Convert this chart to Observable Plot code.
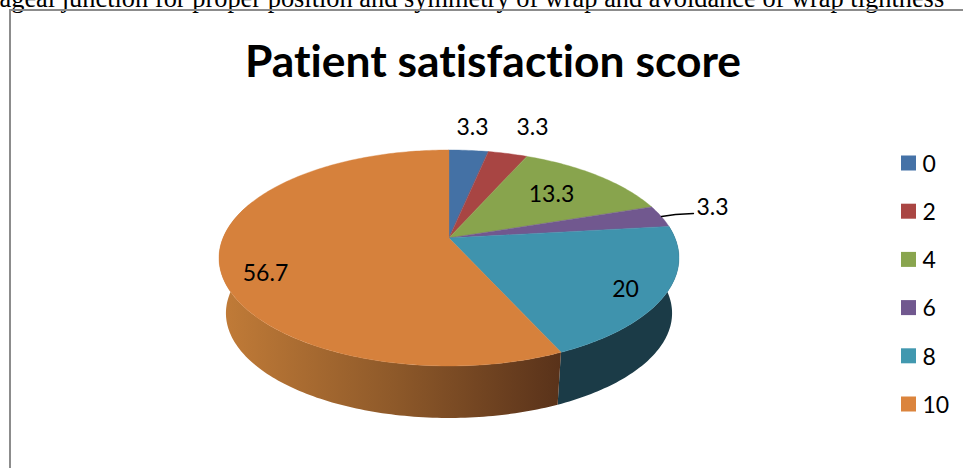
<!DOCTYPE html>
<html>
<head>
<meta charset="utf-8">
<script src="https://cdn.jsdelivr.net/npm/d3@7"></script>
<script src="https://cdn.jsdelivr.net/npm/@observablehq/plot@0.6"></script>
<style>
html,body{margin:0;padding:0;background:#fff;overflow:hidden}
svg{display:block;font-variant-ligatures:none}
</style>
</head>
<body>
<div id="chart"></div>
<script>
// ---- data ----
const categories = ["0", "2", "4", "6", "8", "10"];
const percentages = [3.3, 3.3, 13.3, 3.3, 20, 56.7];
const title = "Patient satisfaction score";
const cropText = "ageal junction for proper position and symmetry of wrap and avoidance of wrap tightness";

// ---- styles ----
const faceColors = ["#4471a5", "#a84543", "#88a44d", "#71588f", "#3f93ad", "#d6813c"];
const legendColors = ["#4572a7", "#aa4643", "#89a54e", "#71588f", "#4198af", "#db843d"];
const fontBody = "Lato, 'Noto Sans', sans-serif";

// ---- perspective geometry of the disc ----
const apex = {x: 449, y: 238};
const A = 226, B = 104.3, p = 0.185;
const baseShift = 55.8, baseScale = 0.97;
const project = (deg, scale = 1, shift = 0) => {
  const t = deg * Math.PI / 180, u = Math.sin(t), v = Math.cos(t), w = 1 + p * v;
  return {x: apex.x + scale * A * u / w, y: apex.y + shift - scale * B * v / w};
};
const arcs = d3.pie().sort(null).value(d => d)(percentages).map((a, i) => ({
  cat: categories[i],
  start: a.startAngle * 180 / Math.PI,
  end: a.endAngle * 180 / Math.PI
}));
const sweep = (from, to) => {
  const n = Math.max(2, Math.ceil(Math.abs(to - from)));
  return d3.range(n + 1).map(k => from + (to - from) * k / n);
};
const faceRows = arcs.flatMap(a => sweep(a.start, a.end).map(deg => {
  const r = project(deg);
  return {cat: a.cat, x1: apex.x, y1: apex.y, x2: r.x, y2: r.y};
}));
const wallRows = (from, to) => sweep(from, to).map(deg => {
  const t = project(deg), b = project(deg, baseScale, baseShift);
  return {x1: t.x, y1: t.y, x2: b.x, y2: b.y};
});

// ---- label layout (page placement of the value labels) ----
const labelAt = [[472, 127], [532, 127], [551, 194], [712, 207], [625, 289], [265, 273]];
const labels = percentages.map((v, i) => ({t: String(v), x: labelAt[i][0], y: labelAt[i][1]}));
const leader = [{x: 661, y: 216}, {x: 675, y: 214}, {x: 693, y: 213}];
const legendRows = categories.map((c, i) => ({c, y: 163 + i * 48.2}));

const svg = Plot.plot({
  width: 963, height: 468,
  marginTop: 0, marginRight: 0, marginBottom: 0, marginLeft: 0,
  x: {domain: [0, 963], range: [0, 963], axis: null},
  y: {domain: [0, 468], range: [0, 468], axis: null},
  color: {domain: categories, range: faceColors},
  marks: [
    Plot.text([cropText], {x: () => -1, y: () => 6.5, text: d => d, textAnchor: "start", lineAnchor: "bottom",
      fontFamily: "'Liberation Serif', serif", fontSize: 26.4, fill: "#000"}),
    Plot.ruleY([9.5], {x1: 9, x2: 963, stroke: "#8c8c8c", strokeWidth: 2}),
    Plot.ruleX([9.5], {y1: 9, y2: 468, stroke: "#8c8c8c", strokeWidth: 2}),
    Plot.text([title], {x: () => 492.5, y: () => 62, text: d => d, fontFamily: fontBody, fontWeight: 700, fontSize: 44.4, fill: "#000"}),
    Plot.area(wallRows(arcs[4].start, arcs[4].end), {x1: "x1", y1: "y1", x2: "x2", y2: "y2", fill: "#1b3b47"}),
    Plot.area(wallRows(arcs[5].start, 290), {x1: "x1", y1: "y1", x2: "x2", y2: "y2", fill: "url(#wallOrange)"}),
    Plot.area(faceRows, {x1: "x1", y1: "y1", x2: "x2", y2: "y2", z: "cat", fill: "cat", stroke: "cat", strokeWidth: 0.4}),
    Plot.line(leader, {x: "x", y: "y", stroke: "#000", strokeWidth: 1.3}),
    Plot.text(labels, {x: "x", y: "y", text: "t", fontFamily: fontBody, fontSize: 23, fill: "#000"}),
    Plot.rect(legendRows, {x1: () => 901, x2: () => 916, y1: d => d.y - 7.5, y2: d => d.y + 7.5,
      fill: (d, i) => legendColors[i]}),
    Plot.text(legendRows, {x: () => 922, y: "y", dy: 1, text: "c", textAnchor: "start", fontFamily: fontBody, fontSize: 23, fill: "#000"})
  ]
});
const grad = d3.select(svg).insert("defs", ":first-child").append("linearGradient").attr("id", "wallOrange");
[[0, "#c27c38"], [0.5, "#8f5a2a"], [1, "#59321a"]].forEach(([o, c]) =>
  grad.append("stop").attr("offset", o).attr("stop-color", c));
document.getElementById("chart").append(svg);
</script>
</body>
</html>
